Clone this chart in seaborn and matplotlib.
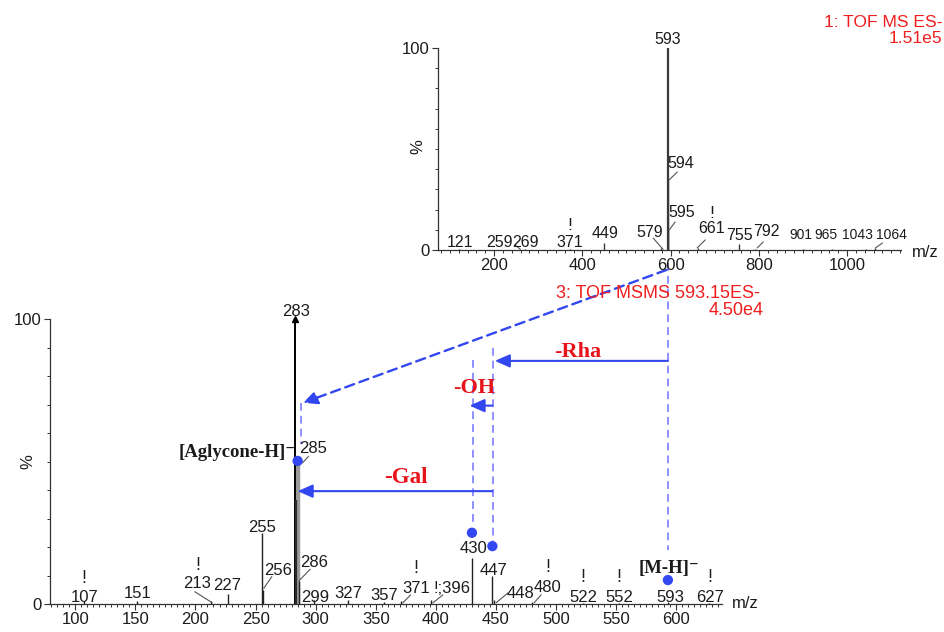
import matplotlib
matplotlib.use("Agg")
import matplotlib.pyplot as plt
from matplotlib.ticker import MultipleLocator, FixedLocator
import numpy as np
import pandas as pd
import seaborn as sns

# ---------------- data ----------------
# full-scan MS (inset, "1: TOF MS ES-")
ms1_mz = [121, 259, 269, 371, 449, 579, 593, 594, 595, 661, 755, 792, 901, 965, 1043, 1064]
ms1_int = [0.5, 0.5, 0.5, 0.5, 3.5, 1.0, 100, 34.6, 10, 1.0, 3.0, 0.5, 0.4, 0.4, 0.4, 0.8]

# MS/MS of 593.15 (main panel)
ms2_mz = [107, 151, 213, 227, 255, 256, 283, 284, 285, 286, 299, 327, 357, 371, 396,
          430, 447, 448, 480, 522, 552, 593, 627]
ms2_int = [1.0, 1.0, 1.0, 3.5, 25, 5, 100, 36.5, 49.5, 8, 1.5, 1.5, 0.8, 1.0, 1.5,
           16, 10, 1.5, 0.8, 0.5, 0.5, 0.8, 0.5]

# key ions marked with blue dots
key_mz = [285, 430, 447, 593]
key_pct = [50.2, 25, 20.3, 8.4]

# neutral losses: (label, from m/z, to m/z)
loss_names = ["-Rha", "-OH", "-Gal"]
loss_from = [593, 447, 447]
loss_to = [449, 428, 285]

title1 = ["1: TOF MS ES-", "1.51e5"]
title2 = ["3: TOF MSMS 593.15ES-", "4.50e4"]

# ---------------- layout (positions / styles only) ----------------
W, H = 945, 632
sns.set_style("ticks")
plt.rcParams["font.family"] = ["Liberation Sans", "DejaVu Sans"]
plt.rcParams["axes.linewidth"] = 0.9

fig = plt.figure(figsize=(W / 100, H / 100), dpi=100)
fig.patch.set_facecolor("white")

ax = fig.add_axes([50 / W, 1 - 604 / H, 672 / W, 285 / H])
axi = fig.add_axes([438 / W, 1 - 250 / H, 463 / W, 202 / H])

ink = "#1c1c1c"
blue = "#3347F0"
lblue = "#8E8EFF"
red = "#F01E1E"

for a in (ax, axi):
    sns.despine(ax=a)
    a.set_facecolor("none")
    a.spines["left"].set_color("#333333")
    a.spines["bottom"].set_color("#333333")
    a.tick_params(axis="both", which="major", length=4.5, width=0.8, color="#333333",
                  labelsize=12, labelcolor=ink, pad=1.5)
    a.tick_params(axis="both", which="minor", length=2.3, width=0.7, color="#333333")
    a.set_ylim(0, 100)
    a.yaxis.set_major_locator(FixedLocator([0, 100]))
    a.yaxis.set_minor_locator(MultipleLocator(10))

# ---- main MS/MS panel ----
ax.set_xlim(79, 638)
ax.xaxis.set_major_locator(MultipleLocator(50))
ax.xaxis.set_minor_locator(MultipleLocator(5))

peak_style = {283: (1.4, "#000000"), 284: (1.6, "#2a2a2a"), 285: (3.2, "#9a9a9a")}
order = sorted(range(len(ms2_mz)), key=lambda i: 0 if ms2_mz[i] == 285 else 1)
for i in order:
    lw, c = peak_style.get(ms2_mz[i], (1.0, "#222222"))
    ax.vlines(ms2_mz[i], 0, ms2_int[i], color=c, lw=lw, zorder=3)
base = int(np.argmax(ms2_int))
ax.plot(ms2_mz[base], ms2_int[base], marker="^", ms=5, color="black", clip_on=False, zorder=4)

# (text, x, baseline y, leader line)
ms2_labels = [
    ("!", 107.5, 7.4, None), ("107", 107.5, 0.7, None),
    ("151", 151.7, 2.1, None),
    ("!", 201.7, 12, None), ("213", 201.7, 5.6, (199.5, 4.3, 214, 0.4)),
    ("227", 226.7, 4.9, None),
    ("255", 255.8, 25.3, None),
    ("256", 268.3, 10.2, (256.8, 5.5, 263.5, 9.6)),
    ("283", 283.6, 101.2, None),
    ("285", 297.5, 53, (289, 49.5, 294, 51.8)),
    ("286", 298.3, 13, (286.2, 8.2, 295.5, 12.2)),
    ("299", 300, 0.7, None),
    ("327", 327.5, 2.0, None),
    ("357", 356.7, 1.4, None),
    ("!", 383.3, 10.9, None), ("371", 383.3, 3.9, (372.5, 0.4, 379, 3.2)),
    ("!;396", 413, 3.9, (397.5, 0.4, 405.8, 3.2)),
    ("430", 431.7, 17.9, None),
    ("447", 448.3, 10.2, None),
    ("448", 470, 2.1, (450, 0.4, 460, 3.9)),
    ("!", 493, 11.2, None), ("480", 493, 4.2, (481.7, 0.4, 487.5, 3.2)),
    ("!", 522.5, 7.7, None), ("522", 522.5, 0.7, None),
    ("!", 552.5, 7.7, None), ("552", 552.5, 0.7, None),
    ("593", 595, 0.7, None),
    ("!", 628, 7.7, None), ("627", 628, 0.7, None),
]

ms1_labels = [
    ("121", 123, 1.5, None),
    ("259", 212, 1.5, (247, 2.5, 259, 0.5)),
    ("269", 271, 1.5, None),
    ("!", 372, 10, None), ("371", 372, 1.5, None),
    ("449", 451.7, 6, None),
    ("579", 551.5, 6.4, (560.5, 5.9, 583, 0.3)),
    ("593", 593, 102, None),
    ("594", 624, 40.6, (596.8, 34.7, 615, 38.6)),
    ("595", 626, 16.3, (596.8, 9.9, 610.4, 13.9)),
    ("!", 694, 16, None), ("661", 692, 8.4, (660, 1, 678.5, 5)),
    ("755", 755.6, 5, None),
    ("792", 818, 7, (796, 1, 810, 4)),
    ("901", 896, 5.2, None),
    ("965", 952, 5.2, None),
    ("1043", 1024, 5.2, None),
    ("1064", 1100, 5.2, (1064, 1, 1080, 3.5)),
]
crowded = {"901", "965", "1043", "1064"}


def put_labels(a, labels, fs=12, crowded_fs=None):
    for txt, tx, ty, leader in labels:
        size = crowded_fs if (crowded_fs and txt in crowded) else fs
        if txt == "!":
            size = fs + 1
        a.text(tx, ty, txt, ha="center", va="baseline", fontsize=size, color=ink,
               clip_on=False, zorder=5)
        if leader is not None:
            a.plot([leader[0], leader[2]], [leader[1], leader[3]], color="#555555",
                   lw=0.8, clip_on=False, zorder=4)


put_labels(ax, ms2_labels, fs=12)
ax.text(1.034, 0.0, "m/z", transform=ax.transAxes, fontsize=12, color=ink,
        ha="center", va="center")

# ---- inset full-scan panel ----
axi.set_xlim(73, 1122)
axi.xaxis.set_major_locator(FixedLocator([200, 400, 600, 800, 1000]))
axi.xaxis.set_minor_locator(MultipleLocator(20))
for m, v in zip(ms1_mz, ms1_int):
    lw = 1.6 if v >= 100 else 1.0
    axi.vlines(m, 0, v, color="#3a3a3a", lw=lw, zorder=3)
put_labels(axi, ms1_labels, fs=11.5, crowded_fs=10)
axi.text(1.052, -0.01, "m/z", transform=axi.transAxes, fontsize=12, color=ink,
         ha="center", va="center")

# ---- key-ion dots ----
dots = pd.DataFrame({"mz": key_mz, "pct": key_pct})
sns.scatterplot(data=dots, x="mz", y="pct", ax=ax, color=blue, s=55, edgecolor="none",
                zorder=6, clip_on=False, legend=False)
ax.set_xlabel("")

for a, lx, ly in ((ax, -0.022, 0.5), (axi, -0.028, 0.51)):
    a.set_ylabel("%", fontsize=12, color=ink)
    a.yaxis.set_label_coords(lx, ly)

# ---- connector dashes ----
dash_l = (0, (4, 2.6))
ax.plot([593, 593], [119.5, 19], color=lblue, lw=1.4, ls=dash_l, clip_on=False, zorder=2)
ax.plot([430.5, 430.5], [85.6, 28.4], color=lblue, lw=1.4, ls=dash_l, clip_on=False, zorder=2)
ax.plot([447.3, 447.3], [89.8, 22], color=lblue, lw=1.4, ls=dash_l, clip_on=False, zorder=2)
ax.plot([287.5, 287.5], [70.5, 56], color=lblue, lw=1.4, ls=dash_l, clip_on=False, zorder=2)
ax.annotate("", xy=(289.5, 70.6), xytext=(591.7, 117.2),
            arrowprops=dict(arrowstyle="-|>,head_length=0.7,head_width=0.33", color=blue,
                            lw=1.7, ls=(0, (4, 2.4)), shrinkA=0, shrinkB=0,
                            mutation_scale=12),
            annotation_clip=False, zorder=3)

# ---- neutral-loss arrows ----
loss_y = [85.3, 69.6, 39.6]
loss_txt = [(518, 86.7), (431.7, 74.0), (375, 42.5)]
loss_fs = [16, 16, 16.5]
for name, f, t, yy, (tx, ty), fs in zip(loss_names, loss_from, loss_to, loss_y, loss_txt, loss_fs):
    ax.annotate("", xy=(t, yy), xytext=(f, yy),
                arrowprops=dict(arrowstyle="-|>,head_length=0.75,head_width=0.33", color=blue,
                                lw=1.5, shrinkA=0, shrinkB=0, mutation_scale=12),
                annotation_clip=False, zorder=4)
    ax.text(tx, ty, name, ha="center", va="baseline", fontsize=fs, fontweight="bold",
            color="#E8141C", family=["Liberation Serif", "DejaVu Serif"], zorder=6)

ax.text(283.2, 51.6, "[Aglycone-H]\u207b", ha="right", va="baseline", fontsize=13.5,
        fontweight="bold", color="#1a1a1a", family=["Liberation Serif", "DejaVu Serif"], zorder=6)
ax.text(594, 10.9, "[M-H]\u207b", ha="center", va="baseline", fontsize=13.5,
        fontweight="bold", color="#1a1a1a", family=["Liberation Serif", "DejaVu Serif"], zorder=6)

# ---- red headers ----
fig.text(942 / W, 1 - 27 / H, title1[0], ha="right", va="baseline", fontsize=12.6, color=red)
fig.text(942 / W, 1 - 43 / H, title1[1], ha="right", va="baseline", fontsize=12.6, color=red)
fig.text(760 / W, 1 - 298 / H, title2[0], ha="right", va="baseline", fontsize=13, color=red)
fig.text(764 / W, 1 - 315 / H, title2[1], ha="right", va="baseline", fontsize=13, color=red)

fig.savefig("out.png", dpi=100, facecolor="white")
